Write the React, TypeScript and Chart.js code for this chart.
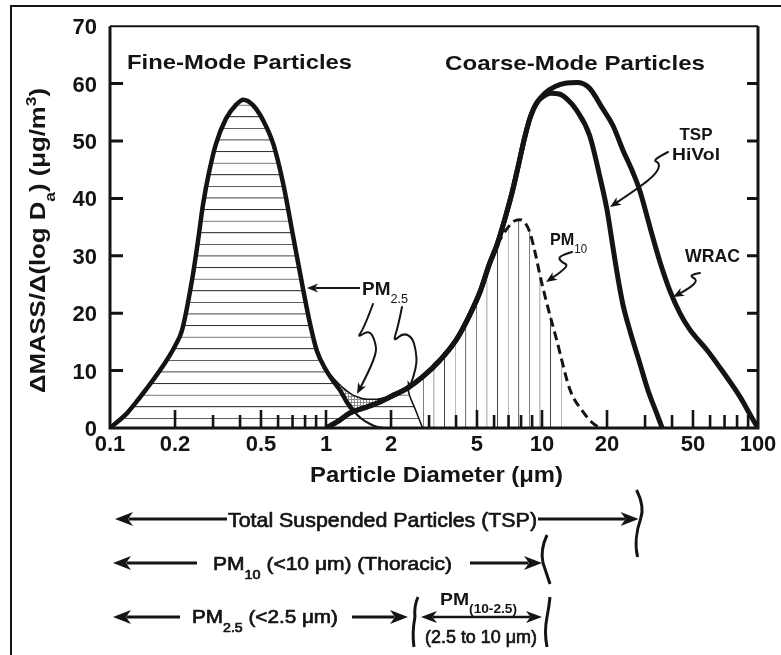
import React, { useEffect, useRef } from "react";
import { Chart, registerables } from "chart.js";

Chart.register(...registerables);

const FAMILY = '"Liberation Sans", Arial, Helvetica, sans-serif';
const INK = "#141414";

// ---- data ----
const FINE_X = [0.1, 0.12, 0.138, 0.16, 0.183, 0.2, 0.2154, 0.2396, 0.2555, 0.2695, 0.2873, 0.3095, 0.3444, 0.3831, 0.414, 0.46, 0.513, 0.571, 0.634, 0.706, 0.785, 0.843, 0.906, 1.0, 1.08, 1.16, 1.25, 1.34, 1.45, 1.6, 1.72, 1.85];
const FINE_Y = [0, 2.6, 5.4, 8.6, 11.8, 14.3, 17, 25.7, 32.6, 38.9, 44.5, 49.5, 53.9, 56.3, 57.2, 56.2, 53.5, 49.4, 42.5, 33.2, 24, 18.2, 13.5, 10.1, 8.2, 6.6, 4.5, 3.0, 1.7, 0.7, 0.2, 0];

const COARSE_RISE_X = [1.0, 1.15, 1.29, 1.5, 1.72, 2.0, 2.37, 2.8, 3.37, 4.0, 4.6, 5.2, 5.7, 6.2, 6.8, 7.3, 7.8, 8.3, 8.8, 9.4];
const COARSE_RISE_Y = [0, 1.3, 2.6, 3.5, 4.3, 5.5, 6.9, 8.9, 11.8, 15.3, 19.5, 24, 28.5, 32, 37, 41.3, 46, 50.5, 54, 56.5];

const TSP_FALL_X = [10.1, 11, 12, 13, 14.5, 16.6, 18.6, 20, 21.3, 22.5, 23.7, 25.5, 28.4, 31, 34, 36];
const TSP_FALL_Y = [57.7, 58.3, 58.2, 57.4, 55.3, 51, 43.5, 38, 31.5, 26, 21.5, 17, 11.2, 6.5, 2.5, 0];

const WRAC_FALL_X = [10.3, 11.5, 13, 14.5, 16.5, 19.2, 21.3, 23.7, 26.3, 28.4, 31.6, 35, 39.2, 43.5, 48, 53, 58, 70, 83, 93, 100];
const WRAC_FALL_Y = [58.3, 59.5, 60.1, 60.2, 59.3, 55.5, 52.7, 48.4, 44.6, 41.3, 35, 29.2, 23.8, 20.0, 17.3, 15.3, 13.6, 9.4, 5.3, 2.0, 0];

const PM10_X = [6.2, 6.85, 7.4, 7.9, 8.4, 8.8, 9.3, 9.8, 10.4, 11.7, 13.5, 15.5, 17, 18.5];
const PM10_Y = [32, 34.6, 36, 36.3, 35.6, 34, 30.5, 26.5, 22.5, 15.3, 6.6, 2.8, 1.0, 0];

const PM25_X = [1.0, 1.1, 1.2, 1.3, 1.4, 1.55, 1.72, 1.88, 2.0, 2.37, 2.45, 2.6, 2.8];
const PM25_Y = [10.1, 8.4, 7.0, 6.0, 5.4, 5.0, 5.0, 5.3, 5.6, 6.9, 5.4, 3.1, 0];

const X_TICKS = [0.1, 0.2, 0.5, 1, 2, 5, 10, 20, 50, 100];
const X_MINOR = [0.2, 0.3, 0.4, 0.5, 0.6, 0.7, 0.8, 0.9, 1, 2, 3, 4, 5, 6, 7, 8, 9, 10, 20, 30, 40, 50, 60, 70, 80, 90];
const X_LONG = [0.2, 0.5, 1, 2, 5, 10, 20, 50];
const Y_TICKS = [10, 20, 30, 40, 50, 60];

const CUT_PM25 = 2.5;
const CUT_PM10 = 10;
const CUT_TSP = 28;
const PM10_HATCH_END = 14;

type Pt = { x: number; y: number };
const zip = (xs: number[], ys: number[]): Pt[] => xs.map((x, i) => ({ x, y: ys[i] }));

type Run = [string, number]; // 0 normal, 1 subscript, -1 superscript

function rich(
  ctx: CanvasRenderingContext2D,
  runs: Run[],
  x: number,
  base: number,
  size: number,
  weight: string,
  align: "left" | "center" | "right",
  fitW?: number,
  subWeight?: string,
  thicken?: number
) {
  const fontFor = (k: number) =>
    k === 0
      ? `${weight} ${size}px ${FAMILY}`
      : `${subWeight ?? weight} ${Math.round(size * 0.68)}px ${FAMILY}`;
  let w = 0;
  const ws = runs.map(([t, k]) => {
    ctx.font = fontFor(k);
    const m = ctx.measureText(t).width;
    w += m;
    return m;
  });
  const sx = fitW ? fitW / w : 1;
  const total = w * sx;
  const x0 = align === "left" ? x : align === "center" ? x - total / 2 : x - total;
  ctx.save();
  ctx.translate(x0, base);
  ctx.scale(sx, 1);
  ctx.textBaseline = "alphabetic";
  ctx.textAlign = "left";
  ctx.fillStyle = INK;
  ctx.strokeStyle = INK;
  ctx.lineJoin = "round";
  let cx = 0;
  runs.forEach(([t, k], i) => {
    ctx.font = fontFor(k);
    const dy = k === 1 ? size * 0.45 : k === -1 ? -size * 0.42 : 0;
    ctx.fillText(t, cx, dy);
    if (thicken) {
      ctx.lineWidth = thicken;
      ctx.strokeText(t, cx, dy);
    }
    cx += ws[i];
  });
  ctx.restore();
}

function head(ctx: CanvasRenderingContext2D, tx: number, ty: number, fx: number, fy: number, len: number, half: number) {
  const a = Math.atan2(ty - fy, tx - fx);
  ctx.save();
  ctx.translate(tx, ty);
  ctx.rotate(a);
  ctx.beginPath();
  ctx.moveTo(0, 0);
  ctx.lineTo(-len, -half);
  ctx.lineTo(-len * 0.72, 0);
  ctx.lineTo(-len, half);
  ctx.closePath();
  ctx.fillStyle = INK;
  ctx.fill();
  ctx.restore();
}

function arrow(ctx: CanvasRenderingContext2D, x1: number, y1: number, x2: number, y2: number, lw: number, len: number, half: number) {
  const d = Math.hypot(x2 - x1, y2 - y1);
  const bx = x2 - ((x2 - x1) / d) * len * 0.75;
  const by = y2 - ((y2 - y1) / d) * len * 0.75;
  ctx.lineWidth = lw;
  ctx.beginPath();
  ctx.moveTo(x1, y1);
  ctx.lineTo(bx, by);
  ctx.stroke();
  head(ctx, x2, y2, x1, y1, len, half);
}

function squiggle(ctx: CanvasRenderingContext2D, pts: number[][], lw: number, len: number, half: number) {
  const n = pts.length;
  const [tx, ty] = pts[n - 1];
  const [px, py] = pts[n - 2];
  const d = Math.hypot(tx - px, ty - py);
  const bx = tx - ((tx - px) / d) * len * 0.75;
  const by = ty - ((ty - py) / d) * len * 0.75;
  ctx.lineWidth = lw;
  ctx.lineJoin = "round";
  ctx.lineCap = "round";
  ctx.beginPath();
  ctx.moveTo(pts[0][0], pts[0][1]);
  for (let i = 1; i < n - 2; i++) {
    const mx = (pts[i][0] + pts[i + 1][0]) / 2;
    const my = (pts[i][1] + pts[i + 1][1]) / 2;
    ctx.quadraticCurveTo(pts[i][0], pts[i][1], mx, my);
  }
  ctx.quadraticCurveTo(pts[n - 2][0], pts[n - 2][1], bx, by);
  ctx.stroke();
  head(ctx, tx, ty, px, py, len, half);
}

function linePattern(vertical: boolean, spacing: number, phase: number, lw: number, color: string) {
  const c = document.createElement("canvas");
  const P = 20;
  c.width = vertical ? P : 4;
  c.height = vertical ? 4 : P;
  const g = c.getContext("2d")!;
  g.fillStyle = color;
  if (vertical) g.fillRect(0, 0, lw, 4);
  else g.fillRect(0, 0, 4, lw);
  const pat = g.createPattern(c, "repeat")!;
  const s = spacing / P;
  const off = (((phase - (lw * s) / 2) % spacing) + spacing) % spacing;
  pat.setTransform(
    vertical ? new DOMMatrix([s, 0, 0, 1, off, 0]) : new DOMMatrix([1, 0, 0, s, 0, off])
  );
  return pat;
}

function stipplePattern() {
  const c = document.createElement("canvas");
  c.width = 3;
  c.height = 3;
  const g = c.getContext("2d")!;
  g.fillStyle = "#8e8e8e";
  g.fillRect(0, 0, 3, 3);
  g.fillStyle = "#ffffff";
  g.fillRect(1, 1, 2, 2);
  return g.createPattern(c, "repeat")!;
}

const annotate = {
  id: "annotate",
  afterDraw(chart: any) {
    const ctx: CanvasRenderingContext2D = chart.ctx;
    const xs = chart.scales.x;
    const ys = chart.scales.y;
    const { left, right, top, bottom } = chart.chartArea;
    ctx.save();
    ctx.strokeStyle = INK;
    ctx.fillStyle = INK;

    // outer frame
    ctx.lineWidth = 2;
    ctx.beginPath();
    ctx.moveTo(11, 655);
    ctx.lineTo(11, 6);
    ctx.lineTo(781, 6);
    ctx.stroke();

    // plot box
    ctx.lineWidth = 3;
    ctx.beginPath();
    ctx.moveTo(left, top);
    ctx.lineTo(left, bottom);
    ctx.lineTo(right, bottom);
    ctx.lineTo(right, top);
    ctx.stroke();
    ctx.lineWidth = 2;
    ctx.beginPath();
    ctx.moveTo(left, top);
    ctx.lineTo(right, top);
    ctx.stroke();

    // inner ticks
    ctx.lineWidth = 2.6;
    ctx.lineCap = "butt";
    X_MINOR.forEach((v) => {
      const px = xs.getPixelForValue(v);
      const h = X_LONG.includes(v) ? 18 : 13;
      ctx.beginPath();
      ctx.moveTo(px, bottom);
      ctx.lineTo(px, bottom - h);
      ctx.stroke();
    });
    ctx.lineWidth = 3;
    Y_TICKS.forEach((v) => {
      const py = ys.getPixelForValue(v);
      ctx.beginPath();
      ctx.moveTo(left, py);
      ctx.lineTo(left + 13, py);
      ctx.moveTo(right - 11, py);
      ctx.lineTo(right, py);
      ctx.stroke();
    });

    // headings
    rich(ctx, [["Fine-Mode Particles", 0]], 127, 68.5, 21, "bold", "left", 225);
    rich(ctx, [["Coarse-Mode Particles", 0]], 445, 69.5, 21, "bold", "left", 260);

    // axis titles
    rich(ctx, [["Particle Diameter (\u03bcm)", 0]], 310, 482, 22, "bold", "left", 253);
    ctx.save();
    ctx.translate(45, 393);
    ctx.rotate(-Math.PI / 2);
    rich(
      ctx,
      [["\u0394MASS/\u0394(log D", 0], ["a", 1], [") (\u03bcg/m", 0], ["3", -1], [")", 0]],
      0,
      0,
      22,
      "bold",
      "left",
      305
    );
    ctx.restore();

    // in-plot labels
    rich(ctx, [["PM", 0], ["2.5", 1]], 362, 295, 18, "bold", "left", 46, "normal");
    arrow(ctx, 360, 288, 307, 288, 2, 11, 4.5);
    squiggle(ctx, [[373, 304], [364, 328], [357, 338], [369, 330], [375, 340], [377, 356], [357, 394]], 2, 11, 4.5);
    squiggle(ctx, [[402, 307], [398, 327], [393, 342], [403, 333], [412, 337], [416, 350], [417, 367], [408, 392]], 2, 11, 4.5);

    rich(ctx, [["PM", 0], ["10", 1]], 550, 245, 17, "bold", "left", 37, "normal");
    squiggle(ctx, [[572, 252], [558, 256], [561, 262], [570, 266], [546, 282]], 2, 11, 4.5);

    rich(ctx, [["TSP", 0]], 696, 140, 17, "bold", "center", 33);
    rich(ctx, [["HiVol", 0]], 696, 160, 17, "bold", "center", 48);
    squiggle(ctx, [[668, 152], [652, 160], [660, 163], [657, 173], [640, 187], [610, 207]], 2, 11, 4.5);

    rich(ctx, [["WRAC", 0]], 685, 262, 18, "bold", "left", 55);
    squiggle(ctx, [[700, 273], [688, 275], [698, 280], [690, 288], [673, 297]], 2, 11, 4.5);

    // size-fraction rows below the axis
    const x01 = xs.getPixelForValue(0.1);
    const x25 = xs.getPixelForValue(CUT_PM25);
    const x10 = xs.getPixelForValue(CUT_PM10);
    const xT = xs.getPixelForValue(CUT_TSP);
    const r1 = bottom + 91;
    const r2 = bottom + 135;
    const r3 = bottom + 189;
    ctx.lineCap = "butt";
    const TH = 0.7;

    // row 1: TSP
    arrow(ctx, 227, r1, x01 + 5, r1, 3, 18, 7);
    rich(ctx, [["Total Suspended Particles (TSP)", 0]], 228, r1 + 8, 21, "normal", "left", 309, undefined, TH);
    arrow(ctx, 538, r1, xT, r1, 3, 18, 7);
    ctx.lineWidth = 3;
    ctx.beginPath();
    ctx.moveTo(xT - 2, r1 - 29);
    ctx.bezierCurveTo(xT + 2, r1 - 21, xT + 6, r1 - 11, xT + 2, r1);
    ctx.bezierCurveTo(xT - 2, r1 + 11, xT - 4, r1 + 26, xT - 1, r1 + 38);
    ctx.stroke();

    // row 2: PM10
    arrow(ctx, 197, r2, x01 + 3, r2, 3, 18, 7);
    rich(ctx, [["PM", 0], ["10", 1], [" (<10 \u03bcm) (Thoracic)", 0]], 213, r2 + 7, 19, "normal", "left", 239, undefined, TH);
    arrow(ctx, 470, r2, x10, r2, 3, 18, 7);
    ctx.lineWidth = 3;
    ctx.beginPath();
    ctx.moveTo(x10 + 5, r2 - 28);
    ctx.quadraticCurveTo(x10 - 2, r2 - 13, x10 + 1, r2);
    ctx.quadraticCurveTo(x10 + 5, r2 + 12, x10 + 8, r2 + 21);
    ctx.stroke();

    // row 3: PM2.5 and PM(10-2.5)
    arrow(ctx, 180, r3, x01 + 3, r3, 3, 18, 7);
    rich(ctx, [["PM", 0], ["2.5", 1], [" (<2.5 \u03bcm)", 0]], 192, r3 + 6, 19, "normal", "left", 146, undefined, TH);
    arrow(ctx, 352, r3, x25 - 4, r3, 3, 18, 7);
    ctx.lineWidth = 3;
    ctx.beginPath();
    ctx.moveTo(x25 + 6, r3 - 20);
    ctx.quadraticCurveTo(x25 + 2, r3 - 11, x25 + 3, r3);
    ctx.quadraticCurveTo(x25, r3 + 15, x25 + 2, r3 + 30);
    ctx.stroke();
    const xa = x25 + 9;
    const xb = x10;
    ctx.lineWidth = 2.5;
    ctx.beginPath();
    ctx.moveTo(xa + 12, r3);
    ctx.lineTo(xb - 12, r3);
    ctx.stroke();
    head(ctx, xa, r3, xa + 20, r3, 16, 6);
    head(ctx, xb, r3, xb - 20, r3, 16, 6);
    ctx.lineWidth = 3;
    ctx.beginPath();
    ctx.moveTo(x10 + 8, r3 - 20);
    ctx.quadraticCurveTo(x10 + 7, r3 - 10, x10 + 5, r3);
    ctx.quadraticCurveTo(x10 + 2, r3 + 15, x10 + 5, r3 + 30);
    ctx.stroke();
    rich(ctx, [["PM", 0], ["(10-2.5)", 1]], 440, r3 - 12, 17, "bold", "left", 77, "bold");
    rich(ctx, [["(2.5 to 10 \u03bcm)", 0]], 425, r3 + 26, 18, "normal", "left", 112, undefined, TH);

    ctx.restore();
  },
};

export default function App() {
  const ref = useRef<HTMLCanvasElement | null>(null);

  useEffect(() => {
    if (!ref.current) return;
    Chart.defaults.font.family = FAMILY;

    const fine = zip(FINE_X, FINE_Y);
    const rise = zip(COARSE_RISE_X, COARSE_RISE_Y);
    const tsp = [...rise, ...zip(TSP_FALL_X, TSP_FALL_Y)];
    const wrac = [...rise, ...zip(WRAC_FALL_X, WRAC_FALL_Y)];
    const pm10 = zip(PM10_X, PM10_Y);
    const pm25 = zip(PM25_X, PM25_Y);
    const hRegion = [
      ...fine.filter((p) => p.x <= 1.25),
      ...rise.filter((p) => p.x >= 1.29 && p.x <= 2.37),
      ...pm25.filter((p) => p.x > 2.37),
    ];
    const vRegion = [
      ...rise.filter((p) => p.x >= 2.8 && p.x < 6.2),
      ...pm10.filter((p) => p.x <= PM10_HATCH_END),
    ];

    const hatchH = linePattern(false, 11.6, 418.3, 1.4, "#1c1c1c");
    const hatchV = linePattern(true, 10.6, 423.3, 1.2, "#3a3a3a");
    const stip = stipplePattern();

    const common = {
      pointRadius: 0,
      cubicInterpolationMode: "monotone" as const,
      borderColor: INK,
    };

    const chart = new Chart(ref.current, {
      type: "line",
      data: {
        datasets: [
          {
            ...common,
            data: fine,
            borderWidth: 4.5,
            fill: false,
            segment: {
              borderWidth: (c: any) => (FINE_X[c.p0DataIndex] >= 1.3 ? 2.2 : undefined),
            },
          },
          { ...common, data: tsp, borderWidth: 5, fill: false },
          { ...common, data: wrac, borderWidth: 5, fill: false },
          { ...common, data: pm10, borderWidth: 3, borderDash: [9, 5], fill: false },
          {
            ...common,
            data: pm25,
            borderWidth: 1.6,
            fill: { target: 5, above: stip, below: "rgba(0,0,0,0)" },
          },
          { ...common, data: hRegion, borderWidth: 0, fill: "origin", backgroundColor: hatchH },
          { ...common, data: vRegion, borderWidth: 0, fill: "origin", backgroundColor: hatchV },
        ],
      } as any,
      options: {
        responsive: false,
        animation: false,
        events: [],
        layout: { padding: { left: 0, top: 25, right: 23, bottom: 0 } },
        plugins: { legend: { display: false }, tooltip: { enabled: false } },
        scales: {
          x: {
            type: "logarithmic",
            min: 0.1,
            max: 100,
            afterBuildTicks: (s: any) => {
              s.ticks = X_TICKS.map((v) => ({ value: v }));
            },
            afterFit: (s: any) => {
              s.height = 227;
            },
            ticks: {
              autoSkip: false,
              maxRotation: 0,
              padding: 4,
              color: INK,
              font: { size: 22, weight: "bold" },
              callback: (v: any) => String(v),
            },
            grid: { display: false, drawTicks: false },
            border: { display: false },
          },
          y: {
            type: "linear",
            min: 0,
            max: 70,
            afterFit: (s: any) => {
              s.width = 110;
            },
            ticks: {
              stepSize: 10,
              padding: 13,
              labelOffset: 2,
              color: INK,
              font: { size: 22, weight: "bold" },
            },
            grid: { display: false, drawTicks: false },
            border: { display: false },
          },
        },
      } as any,
      plugins: [annotate],
    });

    return () => chart.destroy();
  }, []);

  return (
    <div style={{ position: "absolute", left: 0, top: 0, width: 781, height: 655, background: "#fff" }}>
      <canvas ref={ref} width={781} height={655} style={{ display: "block", width: 781, height: 655 }} />
    </div>
  );
}
